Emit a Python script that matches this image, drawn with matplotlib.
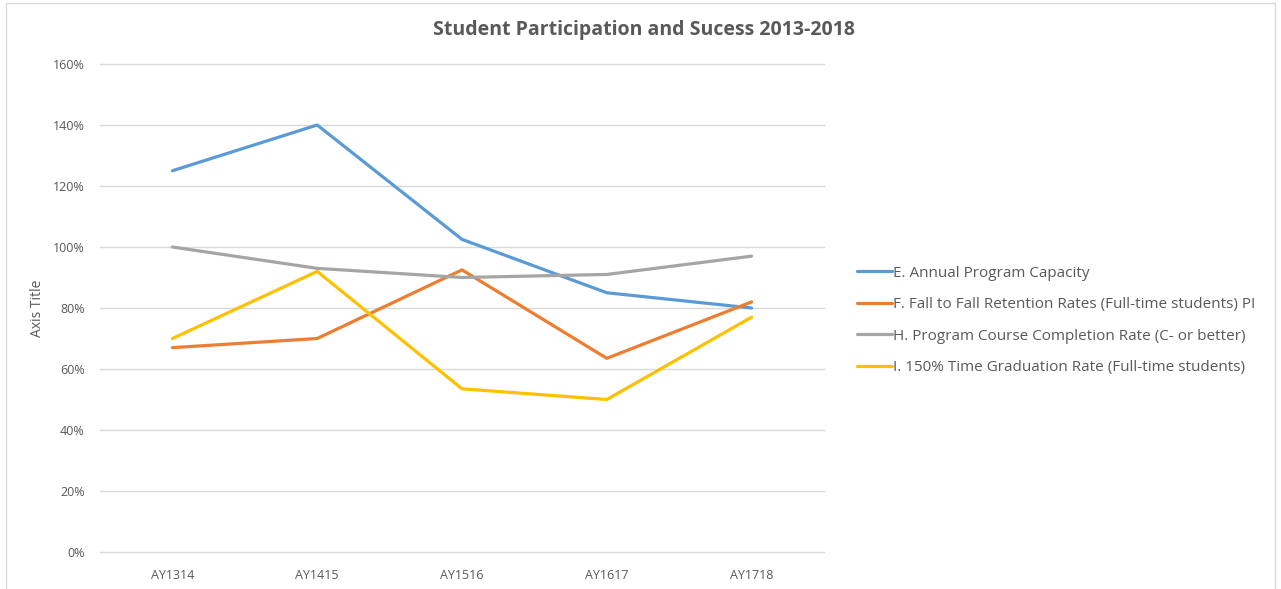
import matplotlib.pyplot as plt
from matplotlib.patches import Rectangle
from matplotlib.ticker import FuncFormatter

years = ["AY1314", "AY1415", "AY1516", "AY1617", "AY1718"]
capacity = [125, 140, 102.5, 85, 80]
retention = [67, 70, 92.5, 63.5, 82]
completion = [100, 93, 90, 91, 97]
graduation = [70, 92, 53.5, 50, 77]

labels = [
    "E. Annual Program Capacity",
    "F. Fall to Fall Retention Rates (Full-time students) PI",
    "H. Program Course Completion Rate (C- or better)",
    "I. 150% Time Graduation Rate (Full-time students)",
]
colors = ["#5B9BD5", "#ED7D31", "#A5A5A5", "#FFC000"]

plt.rcParams['font.family'] = ['Open Sans', 'DejaVu Sans']
text_gray = "#595959"

fig = plt.figure(figsize=(12.81, 5.89), dpi=100)
ax = fig.add_axes([100 / 1281, 1 - 552 / 589, 724 / 1281, 488 / 589])

x = range(len(years))
for vals, lab, col in zip([capacity, retention, completion, graduation], labels, colors):
    ax.plot(x, vals, color=col, lw=2.3, label=lab, solid_capstyle="round")

ax.set_xlim(-0.5, len(years) - 0.5)
ax.set_ylim(0, 160)
ax.set_yticks(range(0, 161, 20))
ax.yaxis.set_major_formatter(FuncFormatter(lambda v, p: f"{int(v)}%"))
ax.set_xticks(list(x))
ax.set_xticklabels(years)
ax.grid(axis="y", color="#D9D9D9", lw=1)
for gl in ax.get_ygridlines():
    gl.set_clip_on(False)
ax.set_axisbelow(True)
for s in ax.spines.values():
    s.set_visible(False)
ax.tick_params(length=0, colors=text_gray, labelsize=9)
ax.tick_params(axis="y", pad=11)
ax.tick_params(axis="x", pad=12)
ax.set_ylabel("Axis Title", color=text_gray, fontsize=10)
ax.yaxis.set_label_coords(-55 / 724, 0.5)

fig.text(644 / 1281, 1 - 30 / 589, "Student Participation and Sucess 2013-2018",
         ha="center", va="center", fontsize=14, fontweight="bold", color=text_gray)

leg = fig.legend(loc="upper left", bbox_to_anchor=(843 / 1281, 1 - 252 / 589),
                 frameon=False, fontsize=11, handlelength=2.3, handletextpad=0.1,
                 labelspacing=1.08, labelcolor=text_gray)

fig.add_artist(Rectangle((6 / 1281, -0.01), 1269 / 1281, 1 - 3 / 589 + 0.01,
                         transform=fig.transFigure, fill=False, edgecolor="#D9D9D9", lw=1))

fig.savefig("out.png", dpi=100)
